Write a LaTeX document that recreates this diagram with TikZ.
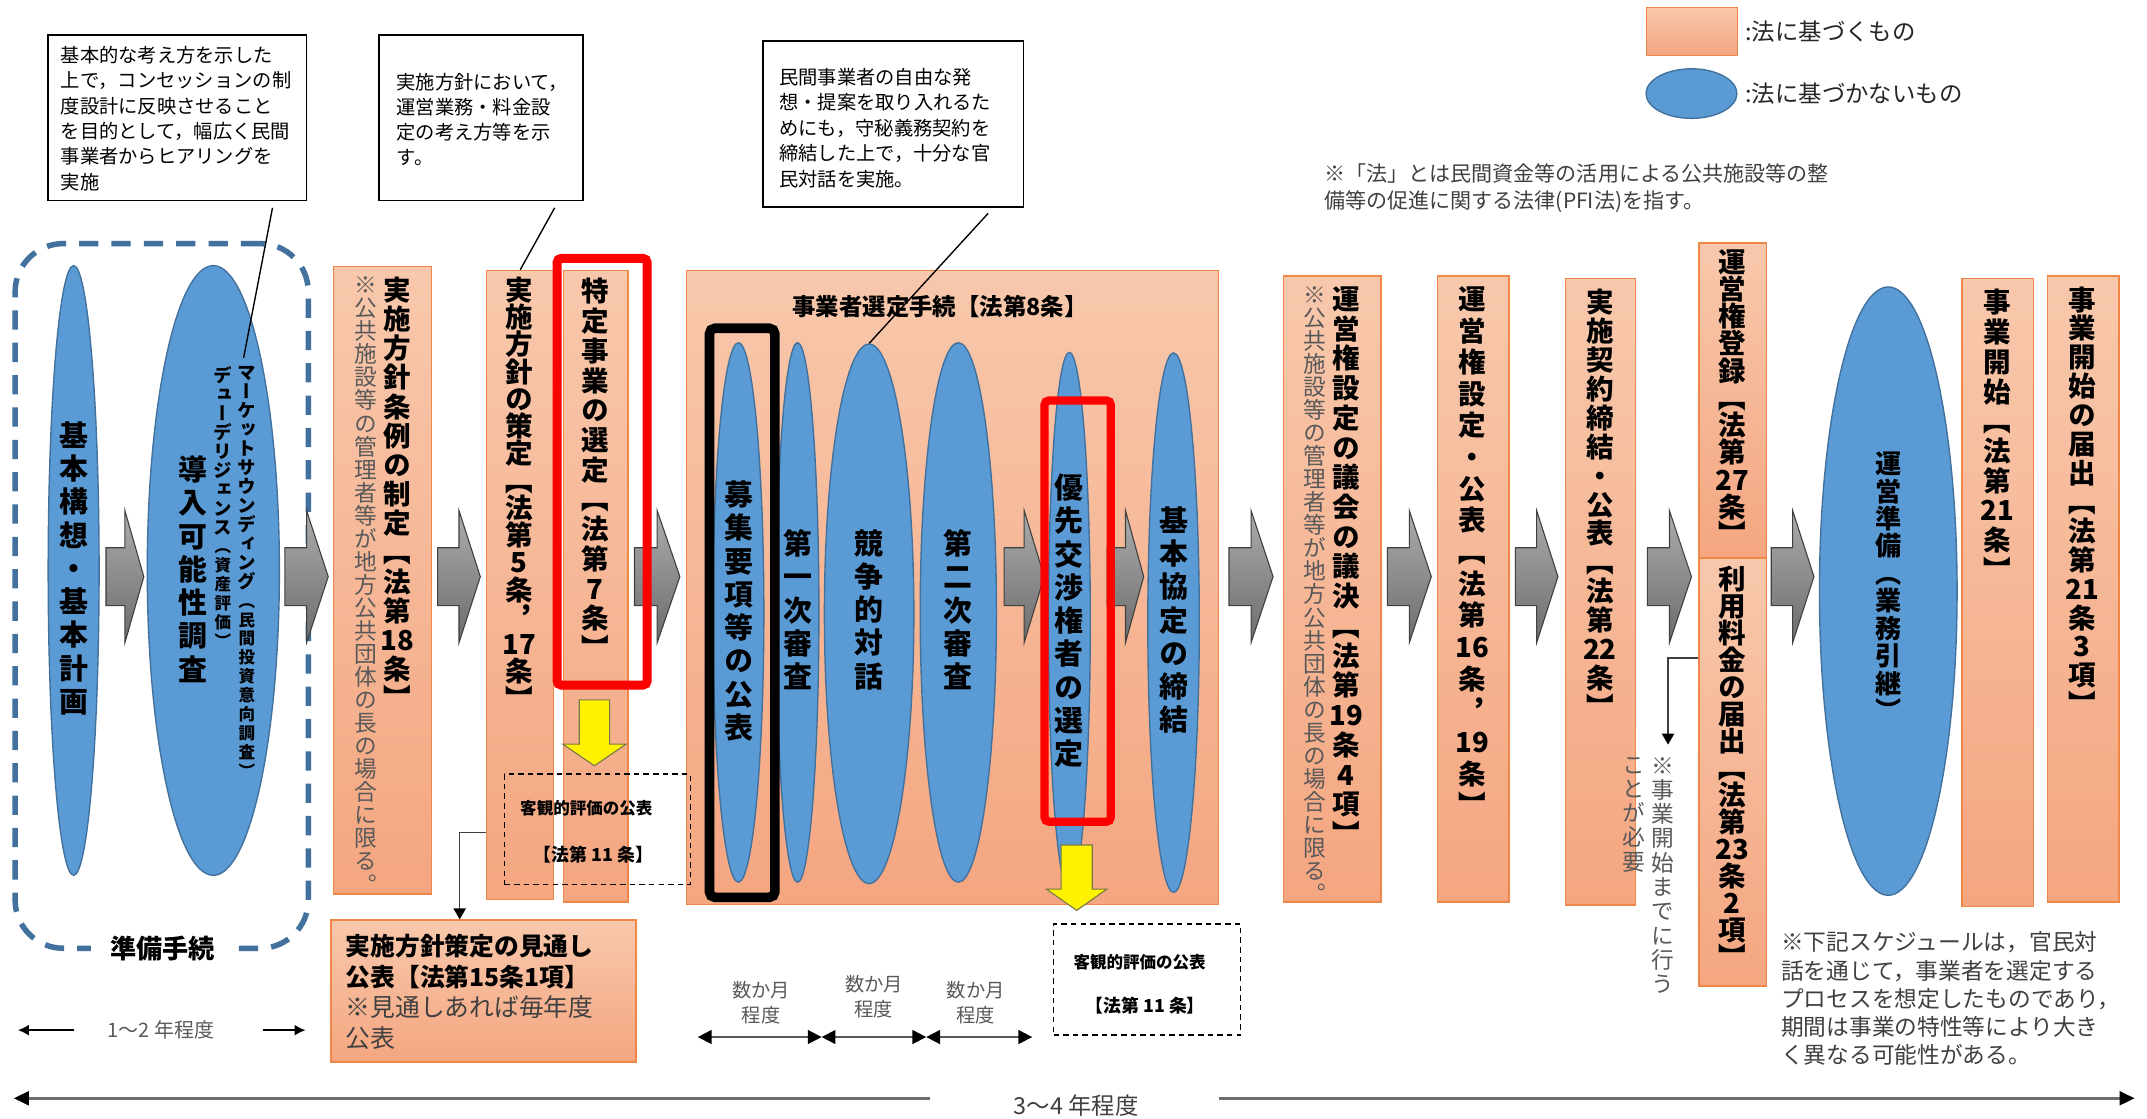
\documentclass[tikz,border=0pt]{standalone}
\usepackage{fontspec}
\setmainfont{Noto Sans CJK JP}
\newfontfamily\vfont{Noto Sans CJK JP}[RawFeature=+vert]
\usetikzlibrary{shapes.geometric,arrows.meta}
\definecolor{otop}{RGB}{248,200,172}
\definecolor{obot}{RGB}{244,166,128}
\definecolor{oedge}{RGB}{240,135,70}
\definecolor{bfill}{RGB}{91,155,213}
\definecolor{bedge}{RGB}{65,113,156}
\definecolor{gtop}{RGB}{172,172,172}
\definecolor{gbot}{RGB}{108,108,108}
\definecolor{gedge}{RGB}{64,64,64}
\definecolor{txtg}{RGB}{89,89,89}
\definecolor{txtd}{RGB}{64,64,64}
\definecolor{yedge}{RGB}{120,120,70}
\definecolor{dashb}{RGB}{65,113,156}
\makeatletter
\newcommand\vstk[2][1.1]{\vbox{\baselineskip=#1em\lineskip=0pt\lineskiplimit=-\maxdimen\@tfor\vch:=#2\do{\hbox to 0pt{\hss\vch\hss}}}}
\makeatother
\newcommand\vbf[1]{\vfont\bfseries\fontsize{#1pt}{#1pt}\selectfont}
\newcommand\vrg[1]{\vfont\fontsize{#1pt}{#1pt}\selectfont}
\newcommand\hf[2]{\fontsize{#1pt}{#2pt}\selectfont}
\newcommand\sm[1]{{\fontsize{12pt}{12pt}\selectfont #1}}
\newcommand\obx[6][]{\node[obox, anchor=north west, minimum width={(#5)-(#3)}, minimum height={(#6)-(#4)}, #1] (#2) at (#3,#4) {};}
\newcommand\frm[6]{\node[rectangle, inner sep=0pt, anchor=north west, minimum width={(#4)-(#2)}, minimum height={(#5)-(#3)}, #6] (#1) at (#2,#3) {};}
\newcommand\bel[5]{\node[bell, minimum width={2*(#4)}, minimum height={2*(#5)}] (#1) at (#2,#3) {};}
\newcommand\garr[2]{\path[garrow] (#1,398) -- ({(#1+#2)/2},398) -- ({(#1+#2)/2},371) -- (#2,419) -- ({(#1+#2)/2},467) -- ({(#1+#2)/2},440) -- (#1,440) -- cycle;}
\newcommand\yarr[6]{\path[yarrow] ({#1-#5},#2) -- ({#1+#5},#2) -- ({#1+#5},#3) -- ({#1+#6},#3) -- (#1,#4) -- ({#1-#6},#3) -- ({#1-#5},#3) -- cycle;}
\begin{document}
\begin{tikzpicture}[x=1pt,y=-1pt,
  obox/.style={rectangle, draw=oedge, line width=1pt, top color=otop, bottom color=obot, inner sep=0pt},
  bell/.style={ellipse, draw=bedge, fill=bfill, line width=1pt, inner sep=0pt},
  garrow/.style={draw=gedge, line width=0.8pt, top color=gtop, bottom color=gbot},
  yarrow/.style={draw=yedge, line width=0.8pt, fill=yellow},
  dbox/.style={rectangle, draw=black, line width=1pt, dash pattern=on 4pt off 3pt, inner sep=0pt, anchor=north west},
  cbox/.style={rectangle, draw=black, line width=1.3pt, fill=white, inner sep=0pt, anchor=north west},
  ctxt/.style={inner sep=0pt, align=left, anchor=north west, font={\hf{14}{18.4}}},
  vt/.style={inner sep=0pt},
  lead/.style={draw=black, line width=1pt},
  bent/.style={draw=txtd, line width=1pt, -{Triangle[length=8pt,width=9pt,color=black]}},
  sarr/.style={draw=black, line width=1.3pt, -{Latex[length=8pt,width=8pt]}},
  dbl/.style={draw=txtg, line width=1.3pt, {Triangle[length=10pt,width=10pt,color=black]}-{Triangle[length=10pt,width=10pt,color=black]}},
  larr/.style={draw={rgb,255:red,110;green,110;blue,110}, line width=2pt, -{Triangle[length=11pt,width=10pt,color=black]}}
]
\useasboundingbox (0,0) rectangle (1560,813);
\fill[white] (0,0) rectangle (1560,813);

% preparation region
\frm{prep}{9}{175}{222}{687}{draw=dashb, line width=4pt, dash pattern=on 14pt off 9.5pt, rounded corners=35pt}

% callouts
\node[cbox, minimum width=188pt, minimum height=120pt] (c1) at (34,25) {};
\node[ctxt] (c1t) at (44,33.4) {基本的な考え方を示した\\上で，コンセッションの制\\度設計に反映させること\\を目的として，幅広く民間\\事業者からヒアリングを\\実施};
\node[cbox, minimum width=148pt, minimum height=120pt] (c2) at (275,25) {};
\node[ctxt, font={\hf{14}{18.2}}] (c2t) at (288,52.8) {実施方針において，\\運営業務・料金設\\定の考え方等を示\\す。};
\node[cbox, minimum width=189pt, minimum height=121pt] (c3) at (554,29) {};
\node[ctxt, font={\hf{14}{18.5}}] (c3t) at (566,49.4) {民間事業者の自由な発\\想・提案を取り入れるた\\めにも，守秘義務契約を\\締結した上で，十分な官\\民対話を実施。};

% legend
\obx{lgb}{1196}{5}{1262}{40}
\node[bell, minimum width=66pt, minimum height=36pt] (lge) at (1229,68) {};
\node[anchor=west, inner sep=0pt, font={\hf{17}{20}}, text=black!85] (lgt1) at (1268,23) {:法に基づくもの};
\node[anchor=west, inner sep=0pt, font={\hf{17}{20}}, text=black!85] (lgt2) at (1268,68) {:法に基づかないもの};

% notes
\node[inner sep=0pt, align=left, anchor=north west, font={\hf{15.3}{19.5}}, text=txtd] (note1) at (962,118.8) {※「法」とは民間資金等の活用による公共施設等の整\\備等の促進に関する法律(PFI法)を指す。};
\node[inner sep=0pt, align=left, anchor=north west, font={\hf{16.5}{20.5}}, text=txtd] (note2) at (1294,676.8) {※下記スケジュールは，官民対\\話を通じて，事業者を選定する\\プロセスを想定したものであり，\\期間は事業の特性等により大き\\く異なる可能性がある。};

% orange boxes
\obx{b1}{242}{193}{313}{649}
\obx{b2}{353}{196}{401.7}{653}
\obx{b3}{408.8}{196}{455.8}{655}
\obx{bb}{498.5}{196}{885}{656.6}
\obx{b4}{932}{200}{1003}{655}
\obx{b5}{1044}{200}{1096}{655}
\obx{b6}{1137}{202}{1188}{657}
\obx{b7}{1234}{176}{1283}{405}
\obx{b8}{1234}{405}{1283}{716}
\obx{b9}{1425}{202}{1477}{658}
\obx{b10}{1487}{200}{1539}{655}
\obx{b11}{240}{668}{461.5}{771}

% ellipses
\bel{e1}{53.5}{414.5}{18.5}{221.5}
\bel{e2}{155}{414.5}{48}{221.5}
\bel{e3}{536.5}{445}{18.5}{196}
\bel{e4}{579.5}{445}{15.5}{196}
\bel{e5}{631.5}{446}{32.5}{196}
\bel{e6}{696.3}{445}{27.7}{196}
\bel{e7}{777}{451.5}{15.2}{195.5}
\bel{e8}{852.7}{452.4}{18.7}{196}
\bel{e9}{1372}{429.5}{50}{221}

% gray arrows
\garr{77}{104.5}
\garr{207}{238.5}
\garr{318}{349}
\garr{461}{494}
\garr{729.6}{758.7}
\garr{804.5}{831}
\garr{893}{925}
\garr{1008}{1040}
\garr{1101}{1132}
\garr{1197}{1229}
\garr{1287}{1318}

% vertical texts in ellipses
\node[vt, font={\vbf{21}}] (te1) at (53.5,413) {\vstk[1.15]{基本構想・基本計画}};
\node[vt, font={\vbf{21}}] (te2) at (140.3,413.5) {\vstk[1.15]{導入可能性調査}};
\node[vt, anchor=north, font={\vbf{13.5}}] (te2b) at (162,266) {\vstk[1.02]{デューデリジェンス{\sm{︵}}{\sm{資}}{\sm{産}}{\sm{評}}{\sm{価}}{\sm{︶}}}};
\node[vt, anchor=north, font={\vbf{13.5}}] (te2c) at (179.3,266) {\vstk[1.02]{マーケットサウンディング{\sm{︵}}{\sm{民}}{\sm{間}}{\sm{投}}{\sm{資}}{\sm{意}}{\sm{向}}{\sm{調}}{\sm{査}}{\sm{︶}}}};
\node[vt, font={\vbf{21}}] (te3) at (536.7,444) {\vstk[1.15]{募集要項等の公表}};
\node[vt, font={\vbf{21}}] (te4) at (579.5,443) {\vstk[1.15]{第一次審査}};
\node[vt, font={\vbf{21}}] (te5) at (631.5,443) {\vstk[1.15]{競争的対話}};
\node[vt, font={\vbf{21}}] (te6) at (696.3,443) {\vstk[1.15]{第二次審査}};
\node[vt, font={\vbf{21}}] (te7) at (776.8,451) {\vstk[1.15]{優先交渉権者の選定}};
\node[vt, font={\vbf{21}}] (te8) at (852.7,450.5) {\vstk[1.15]{基本協定の締結}};
\node[vt, font={\vbf{19}}] (te9) at (1372,426) {\vstk[1.05]{運営準備︵業務引継︶}};

% vertical texts in boxes
\node[vt, anchor=north, font={\vbf{20}}] (tb1) at (288.8,201) {\vstk[1.06]{実施方針条例の制定︻法第{18}条︼}};
\node[vt, anchor=north, text=txtg, font={\vrg{16.5}}] (gb1) at (266,201) {\vstk[1.015]{※公共施設等の管理者等が地方公共団体の長の場合に限る︒}};
\node[vt, anchor=north, font={\vbf{20}}] (tb2) at (377.3,201) {\vstk[0.99]{実施方針の策定︻法第5条︐{17}条︼}};
\node[vt, anchor=north, font={\vbf{20}}] (tb3) at (432.5,202) {\vstk[1.08]{特定事業の選定︻法第7条︼}};
\node[vt, anchor=north, font={\vbf{20}}] (tb4) at (978,208) {\vstk[1.08]{運営権設定の議会の議決︻法第{19}条4項︼}};
\node[vt, anchor=north, text=txtg, font={\vrg{16.5}}] (gb4) at (955,208) {\vstk[1.015]{※公共施設等の管理者等が地方公共団体の長の場合に限る︒}};
\node[vt, anchor=north, font={\vbf{20}}] (tb5) at (1070,208) {\vstk[1.15]{運営権設定・公表︻法第{16}条︐{19}条︼}};
\node[vt, anchor=north, font={\vbf{20}}] (tb6) at (1162.5,210) {\vstk[1.05]{実施契約締結・公表︻法第{22}条︼}};
\node[vt, anchor=north, font={\vbf{20}}] (tb7) at (1258.5,181) {\vstk[0.99]{運営権登録︻法第{27}条︼}};
\node[vt, anchor=north, font={\vbf{20}}] (tb8) at (1258.5,411) {\vstk[0.98]{利用料金の届出︻法第{23}条2項︼}};
\node[vt, anchor=north, font={\vbf{20}}] (tb9) at (1451,210) {\vstk[1.08]{事業開始︻法第{21}条︼}};
\node[vt, anchor=north, font={\vbf{20}}] (tb10) at (1513,208) {\vstk[1.05]{事業開始の届出︻法第{21}条3項︼}};
\node[vt, anchor=north, text=txtg, font={\vrg{16.5}}] (gn1) at (1208,550) {\vstk[1.07]{※事業開始までに行う}};
\node[vt, anchor=north, text=txtg, font={\vrg{16.5}}] (gn2) at (1187,550) {\vstk[1.07]{ことが必要}};

% big box title
\node[inner sep=0pt, font={\bfseries\hf{17}{17}}] (bbt) at (683,222.6) {事業者選定手続【法第8条】};

% bottom box text
\node[inner sep=0pt, align=left, anchor=north west, font={\hf{18}{22.2}}] (b11t) at (251,678.5) {\textbf{実施方針策定の見通し}\\\textbf{公表【法第15条1項】}\\{\color{txtd}※見通しあれば毎年度}\\{\color{txtd}公表}};

% dashed boxes
\node[dbox, minimum width=135pt, minimum height=80pt] (d1) at (366,562) {};
\node[inner sep=0pt, font={\bfseries\hf{12}{12}}] (d1a) at (426,587) {客観的評価の公表};
\node[inner sep=0pt, font={\bfseries\hf{13}{13}}] (d1b) at (431,621) {【法第 11 条】};
\node[dbox, minimum width=136pt, minimum height=80.6pt] (d2) at (765,671) {};
\node[inner sep=0pt, font={\bfseries\hf{12}{12}}] (d2a) at (828,699) {客観的評価の公表};
\node[inner sep=0pt, font={\bfseries\hf{13}{13}}] (d2b) at (832,730.5) {【法第 11 条】};

% yellow arrows
\yarr{431.9}{508.5}{540.7}{556.4}{11}{23}
\yarr{782.3}{614}{646}{661.5}{11.3}{22}

% frames
\frm{r1}{401.5}{184.5}{467}{494.5}{draw=red, line width=6.5pt, rounded corners=3pt}
\frm{r2}{756}{288}{804}{594}{draw=red, line width=6pt, rounded corners=3pt}
\frm{k1}{512}{235}{559.5}{648.5}{draw=black, line width=7pt, rounded corners=4pt}

% prep label
\node[fill=white, inner xsep=14pt, inner ysep=2pt, font={\bfseries\hf{19}{19}}] (prept) at (118,689) {準備手続};

% leader lines
\coordinate (l1a) at (198,151);
\coordinate (l1b) at (177,260);
\draw[lead] (l1a) -- (l1b);
\coordinate (l2a) at (403,151);
\coordinate (l2b) at (378,196);
\draw[lead] (l2a) -- (l2b);
\coordinate (l3a) at (718,155);
\draw[lead] (l3a) -- (e5.north);

% bent arrows
\coordinate (k1c) at (334,605);
\draw[bent] (b2.west |- k1c) -- (k1c) -- (k1c |- b11.north);
\coordinate (k2c) at (1212,478);
\coordinate (k2e) at (1212,541);
\draw[bent] (b8.west |- k2c) -- (k2c) -- (k2e);

% period labels
\node[inner sep=0pt, text=txtg, font={\hf{14.5}{14.5}}] (y12) at (117,748.5) {1～2 年程度};
\coordinate (a1s) at (54,748.5);
\coordinate (a1e) at (13,748.5);
\coordinate (a2s) at (191,748.5);
\coordinate (a2e) at (222,748.5);
\draw[sarr] (a1s) -- (a1e);
\draw[sarr] (a2s) -- (a2e);

\node[inner sep=0pt, align=center, text=txtg, font={\hf{14}{18.2}}] (m1t) at (553,728.6) {数か月\\程度};
\node[inner sep=0pt, align=center, text=txtg, font={\hf{14}{18.2}}] (m2t) at (635,724.5) {数か月\\程度};
\node[inner sep=0pt, align=center, text=txtg, font={\hf{14}{18.2}}] (m3t) at (709,728.6) {数か月\\程度};
\coordinate (m0) at (507,753.5);
\coordinate (m1) at (597,753.5);
\coordinate (m2) at (673,753.5);
\coordinate (m3) at (750,753.5);
\draw[dbl] (m0) -- (m1);
\draw[dbl] (m1) -- (m2);
\draw[dbl] (m2) -- (m3);

\node[inner sep=0pt, text=txtd, font={\hf{17}{17}}] (y34) at (782,803) {3～4 年程度};
\coordinate (z1s) at (676,798);
\coordinate (z1e) at (10,798);
\coordinate (z2s) at (886,798);
\coordinate (z2e) at (1551,798);
\draw[larr] (z1s) -- (z1e);
\draw[larr] (z2s) -- (z2e);
\end{tikzpicture}
\end{document}
